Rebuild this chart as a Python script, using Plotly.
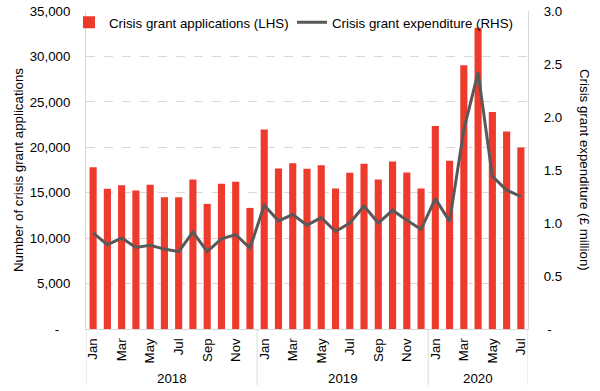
import plotly.graph_objects as go

months = ["Jan", "Feb", "Mar", "Apr", "May", "Jun", "Jul", "Aug", "Sep", "Oct", "Nov", "Dec",
          "Jan", "Feb", "Mar", "Apr", "May", "Jun", "Jul", "Aug", "Sep", "Oct", "Nov", "Dec",
          "Jan", "Feb", "Mar", "Apr", "May", "Jun", "Jul"]
years = ["2018", "2019", "2020"]
year_counts = [12, 12, 7]

applications = [17800, 15450, 15830, 15240, 15870, 14500, 14500, 16450, 13770, 15980, 16200, 13330,
                21970, 17670, 18250, 17630, 18030, 15460, 17190, 18180, 16450, 18440, 17220, 15460,
                22340, 18510, 29040, 33160, 23880, 21750, 19980]
expenditure = [0.906, 0.795, 0.858, 0.770, 0.790, 0.754, 0.730, 0.915, 0.730, 0.850, 0.890, 0.764,
               1.167, 1.020, 1.080, 0.980, 1.050, 0.920, 1.000, 1.160, 1.000, 1.120, 1.025, 0.940,
               1.230, 1.015, 1.880, 2.420, 1.440, 1.310, 1.250]

left_ticks = [0, 5000, 10000, 15000, 20000, 25000, 30000, 35000]
left_ticktext = ["-\u00a0\u00a0\u00a0", "5,000", "10,000", "15,000", "20,000", "25,000", "30,000", "35,000"]
right_ticks = [0, 0.5, 1.0, 1.5, 2.0, 2.5, 3.0]
right_ticktext = ["\u00a0-", "0.5", "1.0", "1.5", "2.0", "2.5", "3.0"]

x = list(range(len(months)))
FONT = "Liberation Sans, Arial, sans-serif"
FS = 13.3
GRID = "#d9d9d9"

fig = go.Figure()
fig.add_trace(go.Bar(x=x, y=applications, name="Crisis grant applications (LHS)",
                     marker=dict(color="#EE3A2C", line=dict(width=0)), width=0.5,
                     legend="legend"))
fig.add_trace(go.Scatter(x=x, y=expenditure, name="Crisis grant expenditure (RHS)", yaxis="y2",
                         mode="lines", line=dict(color="#595959", width=3), legend="legend2"))

leg_common = dict(orientation="h", yanchor="top", y=1.012, bgcolor="rgba(255,255,255,0)",
                  font=dict(size=FS, family=FONT, color="#000000"), itemwidth=30)

fig.update_layout(
    width=600, height=391,
    margin=dict(l=86, r=72, t=11, b=62, autoexpand=False),
    paper_bgcolor="white", plot_bgcolor="white",
    font=dict(family=FONT, size=FS, color="#000000"),
    showlegend=True,
    legend=dict(x=-0.0385, xanchor="left", **leg_common),
    legend2=dict(x=0.466, xanchor="left", **leg_common),
    xaxis=dict(range=[-0.5, len(months) - 0.5], tickvals=x[::2], ticktext=months[::2],
               tickangle=-90, showgrid=False, zeroline=False, showline=True, linecolor=GRID,
               linewidth=1, ticks="outside", ticklen=3, tickcolor="rgba(0,0,0,0)",
               tickfont=dict(size=FS), automargin=False),
    yaxis=dict(range=[0, 35000], tickvals=left_ticks, ticktext=left_ticktext,
               showgrid=True, gridcolor=GRID, griddash="dash", gridwidth=1,
               zeroline=False, showline=True, linecolor=GRID, linewidth=1,
               ticks="outside", ticklen=12, tickcolor="rgba(0,0,0,0)", automargin=False,
               tickfont=dict(size=FS)),
    yaxis2=dict(range=[0, 3], tickvals=right_ticks, ticktext=right_ticktext,
                overlaying="y", side="right", showgrid=False, zeroline=False,
                showline=True, linecolor=GRID, linewidth=1, automargin=False,
                ticks="outside", ticklen=12, tickcolor="rgba(0,0,0,0)",
                tickfont=dict(size=FS)),
)

# axis titles
fig.add_annotation(text="Number of crisis grant applications", xref="paper", yref="paper",
                   x=0, y=0.5, xshift=-68, xanchor="center", yanchor="middle",
                   textangle=-90, showarrow=False, font=dict(size=FS, family=FONT))
fig.add_annotation(text="Crisis grant expenditure (£ million)", xref="paper", yref="paper",
                   x=1, y=0.5, xshift=57, xanchor="center", yanchor="middle",
                   textangle=90, showarrow=False, font=dict(size=FS, family=FONT))

# year group labels and separators
start = 0
bounds = [-0.5]
for yr, cnt in zip(years, year_counts):
    center = start + (cnt - 1) / 2
    fig.add_annotation(text=yr, x=center, xref="x", y=0, yref="paper", yshift=-49,
                       xanchor="center", yanchor="middle",
                       showarrow=False, font=dict(size=FS, family=FONT))
    start += cnt
    bounds.append(start - 0.5)
for b in bounds:
    fig.add_shape(type="line", xref="x", yref="paper", x0=b, x1=b, y0=0, y1=-0.176,
                  line=dict(color=GRID, width=1))

fig.write_html("out.html", config={"displayModeBar": False},
               post_script="document.body.style.margin='0';")
